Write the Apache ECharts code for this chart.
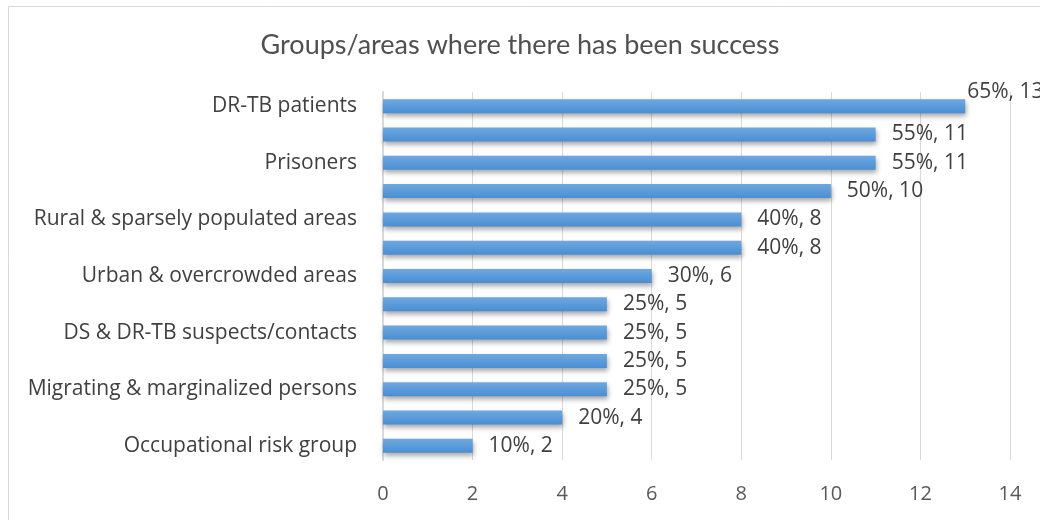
<!DOCTYPE html>
<html>
<head>
<meta charset="utf-8">
<script src="https://cdn.jsdelivr.net/npm/echarts@6/dist/echarts.min.js"></script>
<style>
  html, body { margin: 0; padding: 0; background: #fff; }
  #chart { width: 1040px; height: 520px; }
</style>
</head>
<body>
<div id="chart"></div>
<script>
// bottom to top; unlabeled rows in the reference are kept as blank names
const categories = [
  "Occupational risk group",
  "",
  "Migrating & marginalized persons",
  "",
  "DS & DR-TB suspects/contacts",
  "",
  "Urban & overcrowded areas",
  "",
  "Rural & sparsely populated areas",
  "",
  "Prisoners",
  "",
  "DR-TB patients"
];
const counts = [2, 4, 5, 5, 5, 5, 6, 8, 8, 10, 11, 11, 13];
const percents = [10, 20, 25, 25, 25, 25, 30, 40, 40, 50, 55, 55, 65];

const xTicks = { min: 0, max: 14, interval: 2 };

const chart = echarts.init(document.getElementById("chart"), null, { renderer: "canvas" });

// the longest bar's label sits a little higher in the original, where it ran out of room
const barData = counts.map((v, i) =>
  i === counts.length - 1 ? { value: v, label: { distance: 2, offset: [0, -14] } } : v
);

chart.setOption({
  animation: false,
  textStyle: { fontFamily: "Open Sans" },
  graphic: [
    {
      type: "rect",
      shape: { x: 8.5, y: 6.5, width: 1100, height: 600 },
      style: { fill: "none", stroke: "#d9d9d9", lineWidth: 1 },
      silent: true
    }
  ],
  title: {
    text: "Groups/areas where there has been success",
    left: "center",
    top: 27,
    textStyle: { fontFamily: "Lato", fontWeight: 400, fontSize: 27, color: "#505050" }
  },
  grid: { left: 383, right: 30, top: 92, bottom: 60 },
  xAxis: {
    type: "value",
    min: xTicks.min,
    max: xTicks.max,
    interval: xTicks.interval,
    axisLine: { show: false },
    axisTick: { show: false },
    axisLabel: { color: "#595959", fontSize: 20, margin: 24, fontFamily: "Open Sans" },
    splitLine: { lineStyle: { color: "#d9d9d9", width: 1 } }
  },
  yAxis: {
    type: "category",
    data: categories,
    axisLine: { lineStyle: { color: "#d9d9d9", width: 2 } },
    axisTick: { show: false },
    axisLabel: { interval: 0, color: "#404040", fontSize: 21, margin: 26, fontFamily: "Open Sans" }
  },
  series: [
    {
      type: "bar",
      data: barData,
      barWidth: 14,
      itemStyle: {
        color: new echarts.graphic.LinearGradient(0, 0, 0, 1, [
          { offset: 0, color: "#6ea8e0" },
          { offset: 1, color: "#4a8ed3" }
        ]),
        shadowColor: "rgba(0,0,0,0.35)",
        shadowBlur: 5,
        shadowOffsetY: 3,
        shadowOffsetX: 1
      },
      label: {
        show: true,
        position: "right",
        distance: 16,
        color: "#404040",
        fontSize: 21,
        fontFamily: "Open Sans",
        formatter: (p) => percents[p.dataIndex] + "%, " + p.value
      }
    }
  ]
});
</script>
</body>
</html>
